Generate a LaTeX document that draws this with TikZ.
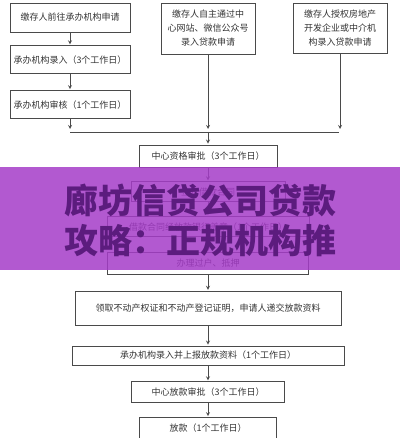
\documentclass[tikz,border=0pt]{standalone}
\usepackage{fontspec}
\setmainfont{Noto Sans CJK SC}
\usetikzlibrary{arrows, positioning}

\definecolor{linegray}{HTML}{4A4A4A}
\definecolor{textgray}{HTML}{333333}
\definecolor{bannerfill}{RGB}{165,60,200}
\definecolor{bannertext}{HTML}{5C1C7E}

\begin{document}
\begin{tikzpicture}[
            x = 1pt, y = -1pt, % work in pixels of the scan
            > = stealth, % arrow head style
            shorten > = 1pt, % don't touch arrow head to node
            line width = 0.8pt, % line style
            draw = linegray
        ]

        \tikzstyle{box}=[
            draw = linegray,
            fill = white,
            text = textgray,
            font = \fontsize{9}{14}\selectfont,
            inner sep = 2pt,
            align = center
        ]

        \useasboundingbox (0,0) rectangle (400,438);

        % three ways to apply
        \node[box, minimum width=120pt, minimum height=29pt] (apply) at (70,17.5) {缴存人前往承办机构申请};
        \node[box, minimum width=120pt, minimum height=28pt] (entry) [below=13pt of apply] {承办机构录入（3个工作日）};
        \node[box, minimum width=120pt, minimum height=28pt] (audit) [below=16pt of entry] {承办机构审核（1个工作日）};
        \node[box, minimum width=94pt, minimum height=51pt] (online) at (208,28.5) {缴存人自主通过中\\心网站、微信公众号\\录入贷款申请};
        \node[box, minimum width=94pt, minimum height=50pt] (agent) at (340,28) {缴存人授权房地产\\开发企业或中介机\\构录入贷款申请};

        % main chain
        \node[box, minimum width=138pt, minimum height=22pt] (quals) at (208,156) {中心资格审批（3个工作日）};
        \node[box, minimum width=154pt, minimum height=20pt] (sign) [below=14pt of quals] {签订借款合同};
        \node[box, minimum width=202pt, minimum height=20pt] (stamp) [below=14pt of sign] {借款合同经放款银行盖章（1个工作日）};
        \node[box, minimum width=201pt, minimum height=22pt] (mortgage) [below=15pt of stamp] {办理过户、抵押};
        \node[box, minimum width=266pt, minimum height=34pt] (papers) [below=16pt of mortgage] {领取不动产权证和不动产登记证明，申请人递交放款资料};
        \node[box, minimum width=272pt, minimum height=19pt] (report) [below=20pt of papers] {承办机构录入并上报放款资料（1个工作日）};
        \node[box, minimum width=153pt, minimum height=21pt] (release) [below=16pt of report] {中心放款审批（3个工作日）};
        \node[box, minimum width=137pt, minimum height=21pt] (payout) [below=14pt of release] {放款（1个工作日）};

        \coordinate (join) at (208,132);

        \path[->] (apply) edge (entry);
        \path[->] (entry) edge (audit);

        \draw[->, shorten > = 3pt] (audit) -- (audit |- join);
        \draw[->, shorten > = 3pt] (online) -- (online |- join);
        \draw[->, shorten > = 3pt] (agent) -- (agent |- join);
        \draw (audit |- join) -- (agent |- join);
        \draw[->] (join) -- (quals);

        \path[->] (quals) edge (sign);
        \path[->] (sign) edge (stamp);
        \path[->] (stamp) edge (mortgage);
        \path[->] (mortgage) edge (papers);
        \path[->] (papers) edge (report);
        \path[->] (report) edge (release);
        \path[->] (release) edge (payout);

        % banner laid over the chart
        \fill[bannerfill, fill opacity = 0.85] (0,167) rectangle (400,270);
        \node[text = bannertext, font = \fontsize{34}{40}\selectfont\bfseries, align = center] (title) at (200,220) {廊坊信贷公司贷款\\攻略：正规机构推};

    \end{tikzpicture}
\end{document}
